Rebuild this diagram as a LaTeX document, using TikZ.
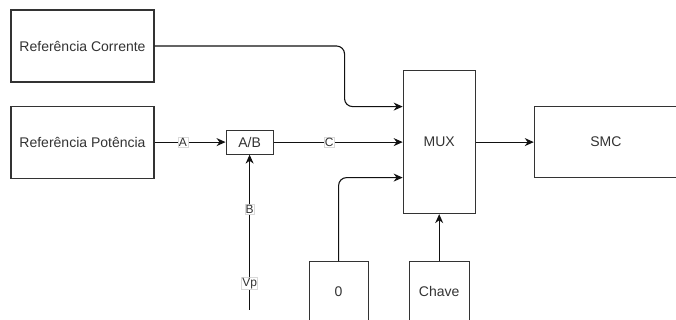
\documentclass[tikz,border=0pt]{standalone}
\usepackage{fontspec}
\setmainfont{Liberation Sans}
\usetikzlibrary{positioning,arrows.meta,calc}
\definecolor{ink}{HTML}{333333}
\definecolor{ink2}{HTML}{111111}
\tikzset{
  blk/.style={draw=ink, line width=1.1pt, fill=white, align=center, text=ink, font=\fontsize{14}{16}\selectfont, inner sep=0pt},
  arr/.style={-{Stealth[length=9pt,width=8pt]}, line width=1.1pt, ink2},
  lbl/.style={font=\fontsize{12}{14}\selectfont, text=ink, fill=white, draw=black!15, line width=0.5pt, inner sep=0.8pt},
}
\begin{document}
\begin{tikzpicture}[x=1pt, y=1pt, node distance=23pt and 71pt]
  \useasboundingbox (0,0) rectangle (676,-320);
  \node[blk, minimum width=143pt, minimum height=72pt] (refc) at (82.5,-46) {Referência Corrente};
  \node[blk, minimum width=143pt, minimum height=72pt, below=23pt of refc] (refp) {Referência Potência};
  \node[blk, minimum width=47pt, minimum height=24pt, right=71pt of refp] (ab) {A/B};
  \node[blk, minimum width=72pt, minimum height=143pt, right=129pt of ab] (mux) {MUX};
  \node[blk, minimum width=143pt, minimum height=71pt, right=58pt of mux] (smc) {SMC};
  \node[blk, minimum width=60pt, minimum height=60pt, below=47pt of mux] (chave) {Chave};
  \node[blk, minimum width=59pt, minimum height=60pt, left=40pt of chave] (zero) {0};
  \coordinate[below=155pt of ab.south] (vp);
  % ligacoes
  \draw[arr] (refp) -- node[lbl, pos=0.4] {A} (ab);
  \draw[arr] (ab) -- node[lbl, pos=0.43] {C} (mux);
  \draw[arr] (vp) -- node[lbl, pos=0.17] {Vp} node[lbl, pos=0.645] {B} (ab);
  \draw[arr, rounded corners=8pt] (refc.east) -- ++(190,0) |- ([yshift=35.5pt]mux.west);
  \draw[arr, rounded corners=8pt] (zero.north) |- ([yshift=-35.5pt]mux.west);
  \draw[arr] (chave) -- (mux); \draw[arr] (mux) -- (smc);
\end{tikzpicture}
\end{document}
